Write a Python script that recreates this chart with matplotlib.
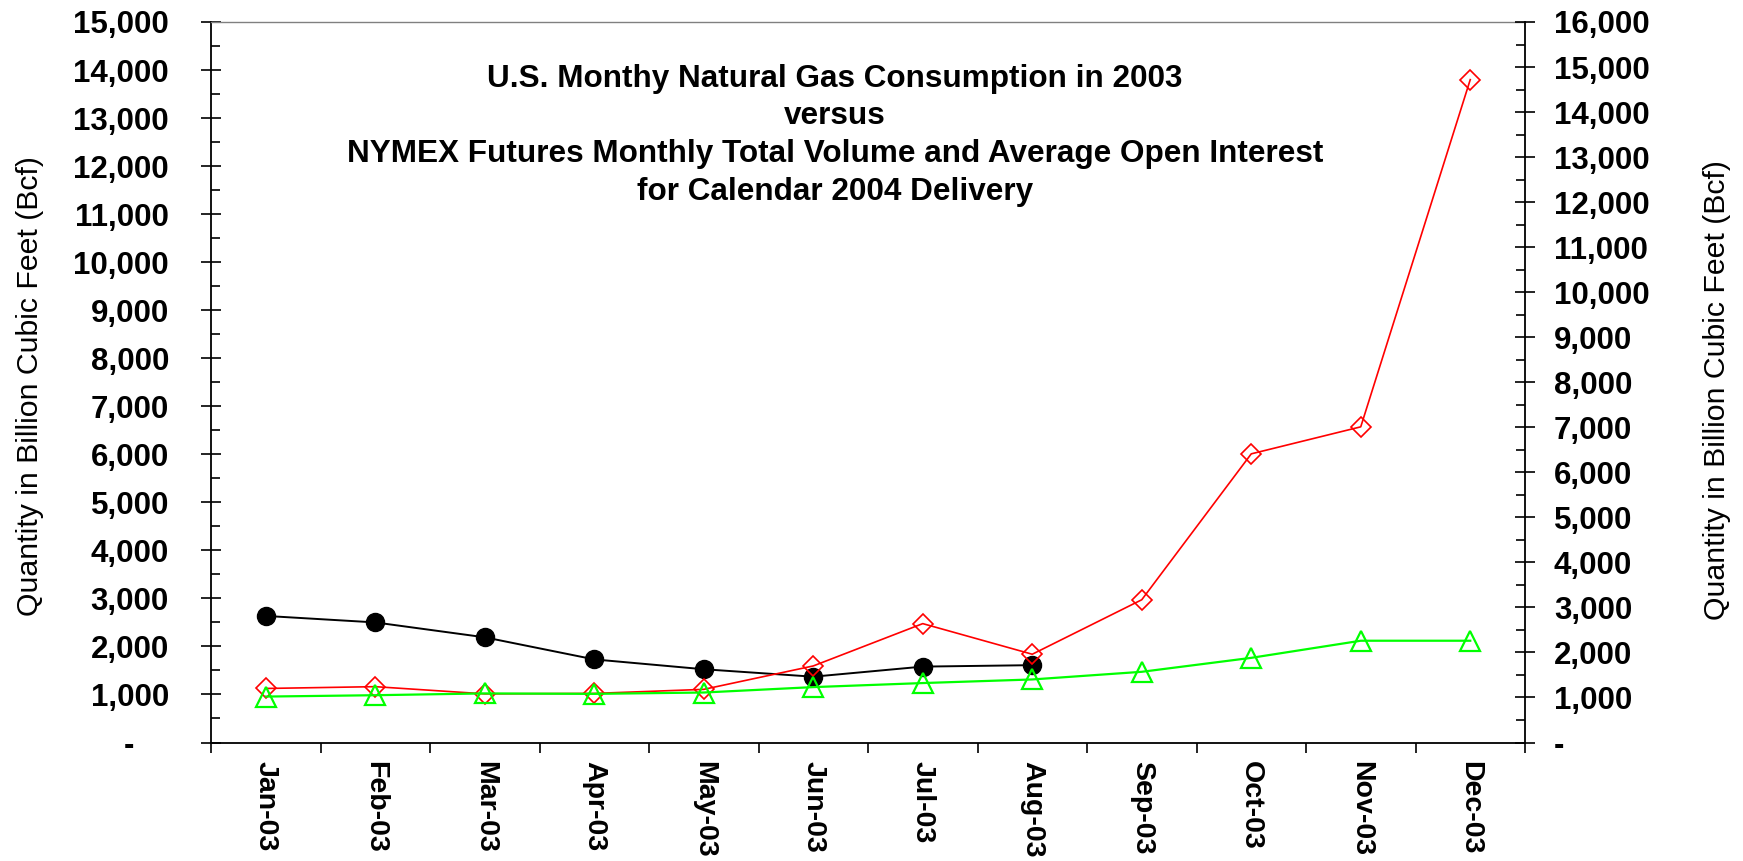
import matplotlib
matplotlib.use("Agg")
import matplotlib.pyplot as plt
import numpy as np
from matplotlib.ticker import FixedLocator, FuncFormatter

plt.rcParams['font.family'] = ['Liberation Sans', 'DejaVu Sans']
plt.rcParams['font.weight'] = 'bold'

# ---------------- data ----------------
months = ["Jan-03", "Feb-03", "Mar-03", "Apr-03", "May-03", "Jun-03",
          "Jul-03", "Aug-03", "Sep-03", "Oct-03", "Nov-03", "Dec-03"]
# U.S. monthly natural gas consumption 2003 (left axis, Bcf) - data through Aug
consumption = [2635, 2500, 2190, 1730, 1525, 1370, 1580, 1610]
# NYMEX futures monthly total volume, calendar 2004 delivery (right axis, Bcf)
futures_volume = [1200, 1240, 1080, 1090, 1180, 1700, 2640, 1960, 3170, 6410, 7010, 14720]
# NYMEX futures average open interest (right axis, Bcf)
open_interest = [1020, 1050, 1090, 1080, 1110, 1230, 1320, 1400, 1570, 1880, 2260, 2260]

left_ticks = list(range(0, 15001, 1000))
right_ticks = list(range(0, 16001, 1000))

title_lines = ["U.S. Monthy Natural Gas Consumption in 2003",
               "versus",
               "NYMEX Futures Monthly Total Volume and Average Open Interest",
               "for Calendar 2004 Delivery"]
ylabel_text = "Quantity in Billion Cubic Feet (Bcf)"

# ---------------- layout ----------------
W, H = 1743, 861
fig = plt.figure(figsize=(W / 100, H / 100), dpi=100)
L, R, T, B = 211, 1525, 22, 742.5
ax = fig.add_axes([L / W, 1 - B / H, (R - L) / W, (B - T) / H])
ax2 = ax.twinx()

x = np.arange(len(months))
ax.plot(x[:len(consumption)], consumption, color='black', lw=1.4,
        marker='o', ms=13, mfc='black', mec='black')
ax2.plot(x, futures_volume, color='#FF0000', lw=1.2,
         marker='D', ms=10, mfc='none', mec='#FF0000', mew=1.2)
ax2.plot(x, open_interest, color='#00FF00', lw=1.6,
         marker='^', ms=14, mfc='none', mec='#00FF00', mew=1.6)

ax.set_xlim(-0.5, len(months) - 0.5)
ax.set_ylim(0, 15000)
ax2.set_ylim(0, 16000)

def lfmt(v, pos):
    return "-    " if v == 0 else f"{int(v):,}"

def rfmt(v, pos):
    return "-" if v == 0 else f"{int(v):,}"

ax.yaxis.set_major_locator(FixedLocator(left_ticks))
ax.yaxis.set_minor_locator(FixedLocator([t + 500 for t in left_ticks[:-1]]))
ax.yaxis.set_major_formatter(FuncFormatter(lfmt))
ax2.yaxis.set_major_locator(FixedLocator(right_ticks))
ax2.yaxis.set_minor_locator(FixedLocator([t + 500 for t in right_ticks[:-1]]))
ax2.yaxis.set_major_formatter(FuncFormatter(rfmt))

fs = 22.5
ax.tick_params(axis='y', which='major', direction='inout', length=13.7, width=1.2,
               pad=23.4, labelsize=fs, colors='black')
ax.tick_params(axis='y', which='minor', direction='in', length=6.8, width=1.2)
ax2.tick_params(axis='y', which='major', direction='inout', length=13.7, width=1.2,
                pad=14, labelsize=fs, colors='black')
ax2.tick_params(axis='y', which='minor', direction='in', length=6.8, width=1.2)

ax.set_xticks(x)
ax.set_xticklabels(months, rotation=-90, ha='center', va='top')
ax.tick_params(axis='x', which='major', length=0, pad=13, labelsize=20.5)
ax.set_xticks(np.arange(-0.5, len(months), 1), minor=True)
ax.tick_params(axis='x', which='minor', direction='out', length=7.2, width=1.2)

for sp in ['left', 'bottom']:
    ax.spines[sp].set_color('black')
    ax.spines[sp].set_linewidth(1.3)
ax.spines['right'].set_visible(False)
ax.spines['top'].set_color('#808080')
ax.spines['top'].set_linewidth(1.0)
ax2.spines['right'].set_color('black')
ax2.spines['right'].set_linewidth(1.3)
for sp in ['left', 'bottom', 'top']:
    ax2.spines[sp].set_visible(False)

# title lines
baselines = [87.5, 124.5, 162, 200]
for line, yb in zip(title_lines, baselines):
    fig.text(835 / W, 1 - yb / H, line, ha='center', va='baseline',
             fontsize=22.7, fontweight='bold', color='black')

fig.text(30 / W, 1 - 386 / H, ylabel_text, rotation=90, ha='center', va='center',
         fontsize=21.8, fontweight='normal', color='black')
fig.text(1717 / W, 1 - 390 / H, ylabel_text, rotation=90, ha='center', va='center',
         fontsize=21.8, fontweight='normal', color='black')

fig.savefig('out.png', dpi=100, facecolor='white')
